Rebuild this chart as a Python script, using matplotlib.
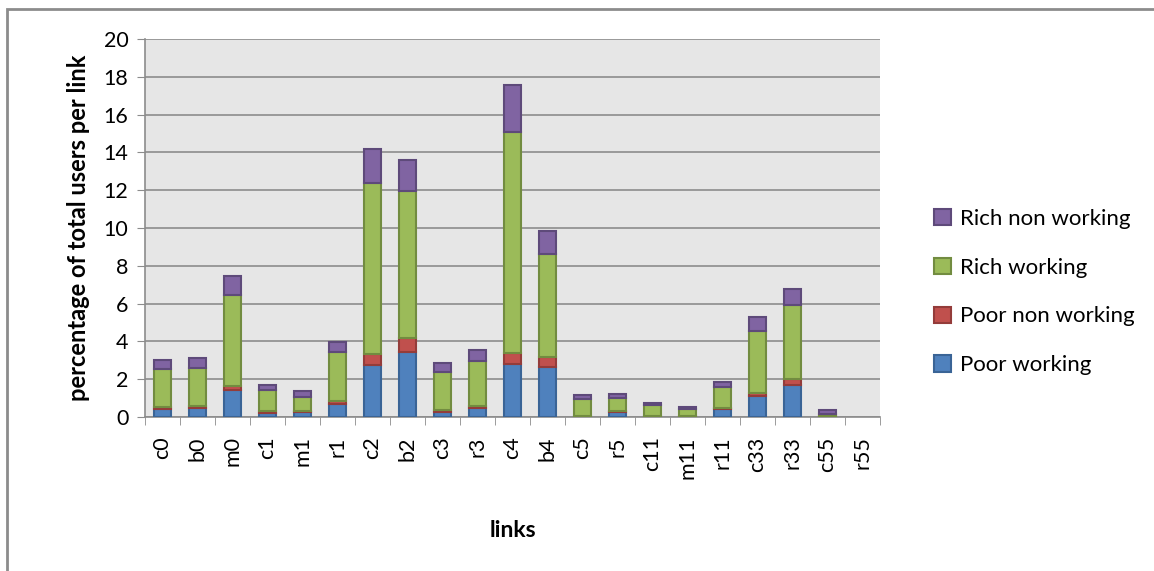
import numpy as np
import matplotlib.pyplot as plt
from matplotlib.patches import Rectangle

links = ['c0', 'b0', 'm0', 'c1', 'm1', 'r1', 'c2', 'b2', 'c3', 'r3', 'c4',
         'b4', 'c5', 'r5', 'c11', 'm11', 'r11', 'c33', 'r33', 'c55', 'r55']

poor_working = [0.44, 0.48, 1.45, 0.21, 0.27, 0.67, 2.77, 3.45, 0.27, 0.48, 2.83,
                2.65, 0.05, 0.27, 0.03, 0.02, 0.41, 1.10, 1.70, 0.02, 0.0]
poor_non_working = [0.09, 0.10, 0.21, 0.09, 0.05, 0.16, 0.55, 0.75, 0.08, 0.10, 0.56,
                    0.53, 0.02, 0.07, 0.02, 0.01, 0.07, 0.19, 0.30, 0.01, 0.0]
rich_working = [2.03, 2.03, 4.79, 1.11, 0.74, 2.62, 9.05, 7.74, 2.04, 2.39, 11.71,
                5.44, 0.90, 0.66, 0.57, 0.38, 1.11, 3.27, 3.92, 0.15, 0.0]
rich_non_working = [0.48, 0.50, 1.01, 0.27, 0.30, 0.53, 1.83, 1.66, 0.47, 0.56, 2.46,
                    1.24, 0.20, 0.24, 0.14, 0.14, 0.27, 0.71, 0.83, 0.17, 0.0]

series = [
    ('Poor working', poor_working, '#4f81bd', '#3a6496'),
    ('Poor non working', poor_non_working, '#c0504d', '#943c3a'),
    ('Rich working', rich_working, '#9bbb59', '#728c40'),
    ('Rich non working', rich_non_working, '#8064a2', '#5e4a7a'),
]

plt.rcParams['font.family'] = ['Lato', 'DejaVu Sans']

fig = plt.figure(figsize=(11.54, 5.71), dpi=100)
ax = fig.add_axes([145 / 1154, 1 - 417 / 571, 735 / 1154, 378 / 571])

x = np.arange(len(links))
bottom = np.zeros(len(links))
handles = []
for name, vals, face, edge in series:
    vals = np.array(vals)
    lw = np.where(vals > 0, 1.5, 0)
    h = ax.bar(x, vals, 0.46, bottom=bottom, color=face, edgecolor=edge,
               linewidth=lw, label=name, zorder=3)
    handles.append(h)
    bottom += vals

ax.set_facecolor('#e6e6e6')
ax.set_xlim(-0.5, len(links) - 0.5)
ax.set_ylim(0, 20)
ax.set_yticks(np.arange(0, 21, 2))
ax.yaxis.grid(True, color='#8c8c8c', linewidth=1.2, zorder=0)
ax.set_axisbelow(True)

ax.set_xticks(x)
ax.set_xticklabels(links, rotation=90, fontsize=15.5)
ax.set_xticks(np.arange(-0.5, len(links), 1), minor=True)
ax.tick_params(axis='x', which='major', length=0, pad=14)
ax.tick_params(axis='x', which='minor', length=6, color='#8c8c8c')
ax.tick_params(axis='y', labelsize=15.5, length=6, color='#8c8c8c', pad=6)

for s in ['top', 'right']:
    ax.spines[s].set_visible(False)
for s in ['left', 'bottom']:
    ax.spines[s].set_color('#8c8c8c')
    ax.spines[s].set_linewidth(1.2)

ax.set_xlabel('links', fontsize=16.5, fontweight='bold', labelpad=30)
ax.set_ylabel('percentage of total users per link', fontsize=17,
              fontweight='bold', labelpad=10)

leg = fig.legend(handles[::-1], [s[0] for s in series][::-1],
                 loc='center left', bbox_to_anchor=(914 / 1154, 1 - 292 / 571),
                 frameon=False, fontsize=16, handlelength=0.75, handleheight=0.75,
                 labelspacing=1.3, handletextpad=0.4)

fig.patches.append(Rectangle((7 / 1154, -0.1), 1.2, 1.1 - 9 / 571,
                             transform=fig.transFigure, fill=False,
                             edgecolor='#8c8c8c', linewidth=2))

fig.savefig('out.png', dpi=100)
